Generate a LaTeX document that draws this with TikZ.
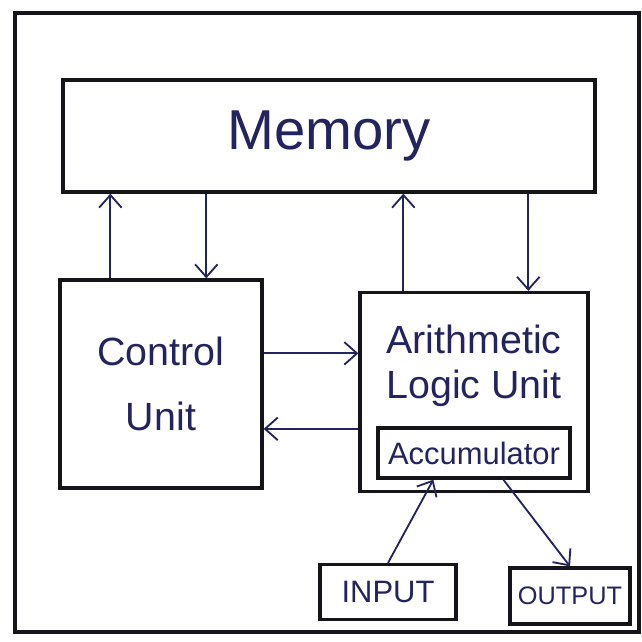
\documentclass[tikz,border=0pt]{standalone}
\usepackage{fontspec}
\setmainfont{Liberation Sans}
\usetikzlibrary{arrows.meta, calc}
\definecolor{InkBlue}{RGB}{35, 35, 95}
\definecolor{PenBlack}{RGB}{20, 20, 25}
\tikzset{
    box/.style={rectangle, draw=PenBlack, line width=2.3pt, text=InkBlue, align=center, inner sep=0pt},
    hand/.style={text=InkBlue, align=center, inner sep=0pt},
    arrow/.style={-{Straight Barb[length=9pt, width=16pt, line width=1.3pt]}, line width=1.3pt, color=InkBlue}
}

\begin{document}
\begin{tikzpicture}[x=0.025cm, y=-0.025cm]
    \useasboundingbox (0, 0) rectangle (641, 642);
    \draw[PenBlack, line width=2.4pt] (15, 13) rectangle (639, 632);

    \node[box, minimum width=13.3cm, minimum height=2.8cm, font=\fontsize{40}{44}\selectfont] (mem) at (329, 136) {Memory};
    \node[box, minimum width=5.05cm, minimum height=5.2cm, font=\fontsize{28}{46}\selectfont] (cu) at (161, 384) {Control\\Unit};
    \node[box, minimum width=5.7cm, minimum height=4.975cm] (alu) at (474, 392) {};
    \node[hand, font=\fontsize{28}{32}\selectfont] (alulbl) at (474, 366) {Arithmetic\\Logic Unit};
    \node[box, minimum width=4.8cm, minimum height=1.25cm, font=\fontsize{22}{24}\selectfont] (acc) at (474, 453) {Accumulator};
    \node[box, minimum width=3.4cm, minimum height=1.375cm, font=\fontsize{22}{24}\selectfont] (inp) at (388, 592) {INPUT};
    \node[box, minimum width=3cm, minimum height=1.4cm, font=\fontsize{18}{22}\selectfont] (outp) at (570, 596) {OUTPUT};

    % memory <-> control unit
    \draw[arrow] ($(cu.north west)+(52, 0)$) coordinate (cm1) -- (cm1 |- mem.south);
    \draw[arrow] ($(mem.south west)+(145, 0)$) coordinate (cm2) -- (cm2 |- cu.north);
    % memory <-> alu
    \draw[arrow] ($(alu.north west)+(45, 0)$) coordinate (am1) -- (am1 |- mem.south);
    \draw[arrow] ($(mem.south west)+(467, 0)$) coordinate (am2) -- (am2 |- alu.north);
    % control unit <-> alu
    \draw[arrow] ($(cu.north east)+(0, 75)$) coordinate (ca1) -- (ca1 -| alu.west);
    \draw[arrow] ($(alu.north west)+(0, 138)$) coordinate (ca2) -- (ca2 -| cu.east);
    % input / output
    \draw[arrow] (inp.north) -- ($(acc.south west)+(57, 0)$);
    \draw[arrow] ($(acc.south west)+(127, 0)$) -- (outp.north);
\end{tikzpicture}
\end{document}
